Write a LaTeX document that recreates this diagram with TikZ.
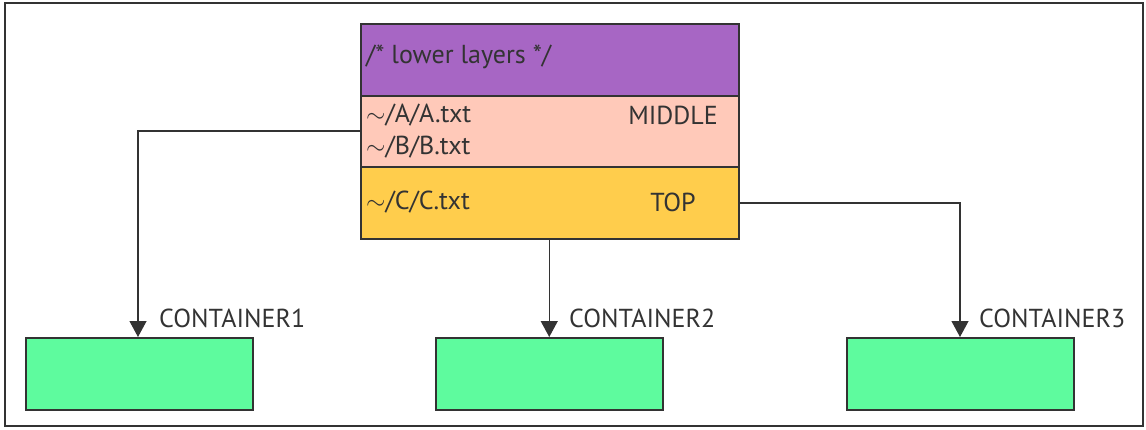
\documentclass[tikz,border=0pt]{standalone}
\usepackage{fontspec}
\setmainfont{PT Sans}
\usetikzlibrary{arrows.meta}
\definecolor{ink}{HTML}{333333}
\definecolor{lpurple}{HTML}{A766C4}
\definecolor{lpink}{HTML}{FFC9B9}
\definecolor{lyellow}{HTML}{FFCD4C}
\definecolor{lgreen}{HTML}{5EFB9E}
\tikzset{
  layer/.style={draw=ink, line width=1.5pt, minimum width=378pt, inner sep=0pt, anchor=north west},
  ctr/.style={draw=ink, line width=1.5pt, fill=lgreen, minimum width=227pt, minimum height=72pt, inner sep=0pt, anchor=north west},
  txt/.style={text=ink, font=\fontsize{26}{30}\selectfont, inner sep=0pt},
  conn/.style={draw=ink, line width=1.2pt, -{Triangle[width=17pt,length=16pt]}},
}
\begin{document}
\begin{tikzpicture}[x=1pt,y=-1pt]
\useasboundingbox (0,0) rectangle (1146,429);
\draw[ink, line width=2pt] (5,3) rectangle (1143,426);
% stack
\node[layer, fill=lpurple, minimum height=72pt] (lower) at (360,23) {};
\node[layer, fill=lpink, minimum height=71pt] (middle) at (360,95) {};
\node[layer, fill=lyellow, minimum height=72pt] (top) at (360,166) {};
\node[txt, anchor=west] (tl) at (366,57) {/* lower layers */};
\node[txt, anchor=west] (ta) at (366,115) {$\sim$/A/A.txt};
\node[txt, anchor=west] (tb) at (366,147) {$\sim$/B/B.txt};
\node[txt, anchor=east] (tm) at (718,115) {MIDDLE};
\node[txt, anchor=west] (tc) at (366,202) {$\sim$/C/C.txt};
\node[txt] (tt) at (673,202) {TOP};
% containers
\node[ctr] (c1) at (25,337) {};
\node[ctr] (c2) at (435,337) {};
\node[ctr] (c3) at (846,337) {};
\node[txt, anchor=west] (l1) at (159,318) {CONTAINER1};
\node[txt, anchor=west] (l2) at (569,318) {CONTAINER2};
\node[txt, anchor=west] (l3) at (979,318) {CONTAINER3};
% connectors
\coordinate (s1) at (360,131);
\coordinate (s3) at (738,203);
\draw[conn] (s1) -| (c1.north -| 138,0);
\draw[conn] (top.south -| c2.north) -- (c2.north);
\draw[conn] (s3) -| (c3.north -| 960,0);
\end{tikzpicture}
\end{document}
